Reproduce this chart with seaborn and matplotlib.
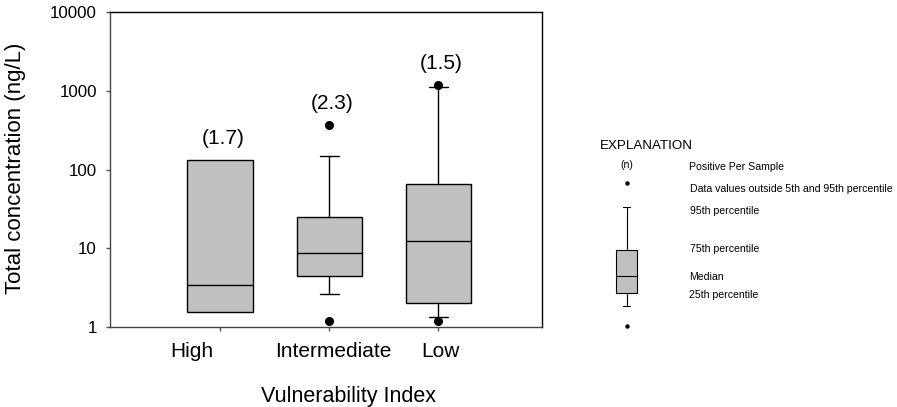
import matplotlib
matplotlib.use("Agg")
import matplotlib.pyplot as plt
import matplotlib.transforms as mtransforms
import seaborn as sns
import numpy as np

# ---- data ----
categories = ["High", "Intermediate", "Low"]
q1 = [1.55, 4.5, 2.02]
median = [3.4, 8.8, 12.5]
q3 = [133, 25.3, 65.4]
whisker_lo = [1.55, 2.63, 1.35]
whisker_hi = [133, 150, 1120]
outliers = [[], [364, 1.2], [1190, 1.2]]
positive_per_sample = ["(1.7)", "(2.3)", "(1.5)"]
label_y = [250, 680, 2220]
yticks = [1, 10, 100, 1000, 10000]
ytick_labels = ["1", "10", "100", "1000", "10000"]

sns.set_style("ticks")
plt.rcParams["font.family"] = ["Liberation Sans", "DejaVu Sans"]
plt.rcParams["text.color"] = "black"
plt.rcParams["axes.labelcolor"] = "black"

W, H = 897, 407
fig = plt.figure(figsize=(W / 100, H / 100), dpi=100)
ax = fig.add_axes([110 / W, (H - 327) / H, 432 / W, 315 / H])

stats = []
for i, c in enumerate(categories):
    stats.append(dict(label=c, q1=q1[i], med=median[i], q3=q3[i],
                      whislo=whisker_lo[i], whishi=whisker_hi[i],
                      fliers=outliers[i]))
pos = np.arange(len(categories))
ax.bxp(stats, positions=pos, widths=0.6, patch_artist=True,
       capwidths=[0.0, 0.17, 0.17],
       boxprops=dict(facecolor="#c0c0c0", edgecolor="black", linewidth=1),
       medianprops=dict(color="black", linewidth=1),
       whiskerprops=dict(color="black", linewidth=1),
       capprops=dict(color="black", linewidth=1),
       flierprops=dict(marker="o", markerfacecolor="black",
                       markeredgecolor="black", markersize=5.5, linestyle="none"))

txt_offset = mtransforms.ScaledTranslation(3 / 100, 0, fig.dpi_scale_trans)
for i in range(len(categories)):
    ax.text(pos[i], label_y[i], positive_per_sample[i], ha="center",
            va="center", fontsize=15, transform=ax.transData + txt_offset)

ax.set_yscale("log")
ax.set_ylim(1, 10000)
ax.set_xlim(-1.01, 2.95)
ax.set_yticks(yticks)
ax.set_yticklabels(ytick_labels)
ax.yaxis.set_minor_locator(matplotlib.ticker.NullLocator())
ax.set_xticks(pos)
ax.set_xticklabels(categories)
ax.tick_params(axis="y", labelsize=12.2, length=3, width=1, color="#555555",
               labelcolor="black", direction="out", pad=6.5)
ax.tick_params(axis="x", labelsize=15, length=3, width=1, color="#555555",
               labelcolor="black", direction="out", pad=7.5)
# small horizontal offsets of the category labels, as in the reference
shifts = [-28, 4, 2]
for lab, dx in zip(ax.get_xticklabels(), shifts):
    lab.set_transform(lab.get_transform() +
                      mtransforms.ScaledTranslation(dx / 100, 0, fig.dpi_scale_trans))
for name, s in ax.spines.items():
    s.set_visible(True)
    s.set_color("black" if name in ("top", "right") else "#444444")
    s.set_linewidth(1)
ax.set_xlabel("Vulnerability Index", fontsize=15.5)
ax.xaxis.set_label_coords(0.553, -0.188)
ax.set_ylabel("Total concentration (ng/L)", fontsize=16)
ax.yaxis.set_label_coords(-0.195, 0.505)

# ---- explanation legend (pixel coordinates) ----
lx = fig.add_axes([0, 0, 1, 1])
lx.set_xlim(0, W)
lx.set_ylim(H, 0)
lx.axis("off")
lx.patch.set_alpha(0)
fs = 7.6
lx.text(600, 146, "EXPLANATION", fontsize=9.6, va="center", ha="left")
lx.text(626.5, 165, "(n)", fontsize=fs, va="center", ha="center")
bx = 626.5
lx.plot([bx], [182.7], "o", color="black", markersize=2.2)
lx.plot([bx], [325.7], "o", color="black", markersize=2.2)
lx.plot([bx, bx], [206.7, 250], color="black", lw=0.8)
lx.plot([bx, bx], [292.7, 306], color="black", lw=0.8)
lx.plot([bx - 3.5, bx + 3.5], [206.7, 206.7], color="black", lw=0.8)
lx.plot([bx - 3.5, bx + 3.5], [306, 306], color="black", lw=0.8)
lx.add_patch(plt.Rectangle((616, 250), 20.7, 42.7, facecolor="#c0c0c0",
                           edgecolor="black", lw=0.8))
lx.plot([616, 636.7], [276, 276], color="black", lw=0.8)
tx = 689
lx.text(tx, 167, "Positive Per Sample", fontsize=fs, va="center")
lx.text(tx + 1, 189, "Data values outside 5th and 95th percentile", fontsize=fs, va="center")
lx.text(tx + 1, 211, "95th percentile", fontsize=fs, va="center")
lx.text(tx + 1, 249, "75th percentile", fontsize=fs, va="center")
lx.text(tx, 277, "Median", fontsize=fs, va="center")
lx.text(tx, 295, "25th percentile", fontsize=fs, va="center")

fig.savefig("out.png", dpi=100)
